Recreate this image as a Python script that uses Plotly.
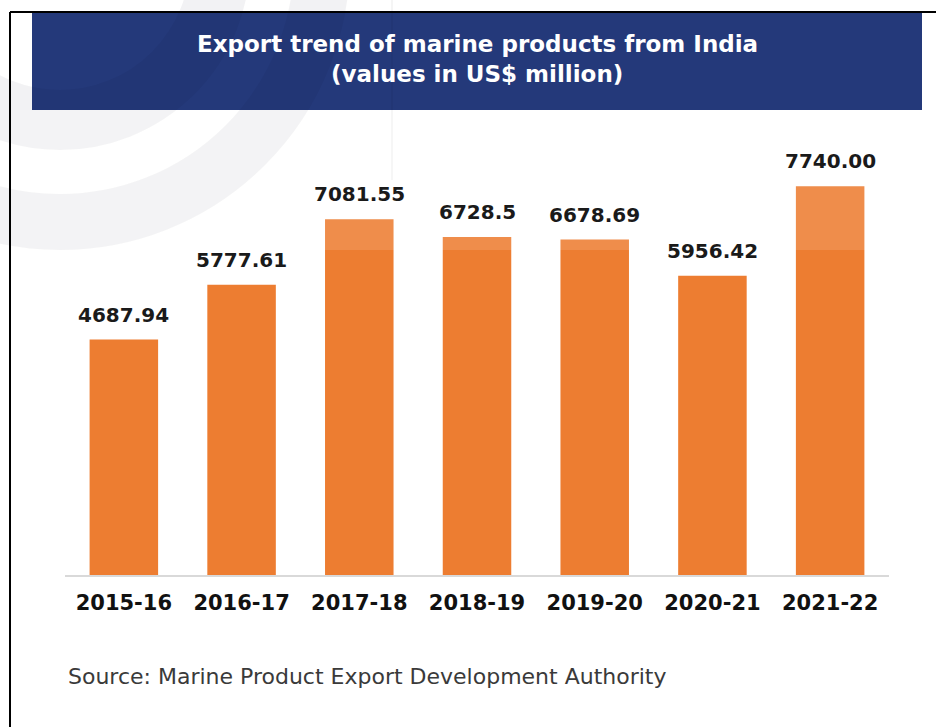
import plotly.graph_objects as go

# ---- data ----
years = ["2015-16", "2016-17", "2017-18", "2018-19", "2019-20", "2020-21", "2021-22"]
values = [4687.94, 5777.61, 7081.55, 6728.5, 6678.69, 5956.42, 7740.00]
value_labels = ["4687.94", "5777.61", "7081.55", "6728.5", "6678.69", "5956.42", "7740.00"]
title_line1 = "Export trend of marine products from India"
title_line2 = "(values in US$ million)"
source_text = "Source: Marine Product Export Development Authority"

# ---- layout geometry (pixels) ----
W, H = 936, 727
L, R, T, B = 65, 47, 120, 152
PW, PH = W - L - R, H - T - B


def px(x):
    return (x - L) / PW


def py(y):
    return (H - B - y) / PH


fig = go.Figure(
    go.Bar(
        x=years,
        y=values,
        marker=dict(color="#ED7D31", line=dict(width=0)),
        hoverinfo="skip",
    )
)

annotations = []
for yr, v, lab in zip(years, values, value_labels):
    annotations.append(dict(
        x=yr, y=v, xref="x", yref="y", text=lab, showarrow=False,
        yanchor="bottom", yshift=11,
        font=dict(family="DejaVu Sans", size=20, color="#1a1a1a", weight="bold"),
    ))

annotations += [
    dict(x=px(477), y=py(58.5), xref="paper", yref="paper", text=title_line1,
         showarrow=False, xanchor="center", yanchor="bottom",
         font=dict(family="DejaVu Sans", size=23, color="white", weight="bold")),
    dict(x=px(477), y=py(89.5), xref="paper", yref="paper", text=title_line2,
         showarrow=False, xanchor="center", yanchor="bottom",
         font=dict(family="DejaVu Sans", size=23, color="white", weight="bold")),
    dict(x=px(66), y=py(691), xref="paper", yref="paper", text=source_text,
         showarrow=False, xanchor="left", yanchor="bottom",
         font=dict(family="DejaVu Sans", size=22, color="#3a3a3a")),
]


def circle(cx, cy, r, width, color):
    return dict(type="circle", xref="paper", yref="paper",
                x0=px(cx - r), x1=px(cx + r), y0=py(cy + r), y1=py(cy - r),
                line=dict(color=color, width=width), fillcolor="rgba(0,0,0,0)", layer="below")


shapes = [
    # title banner
    dict(type="rect", xref="paper", yref="paper", x0=px(32), x1=px(922), y0=py(110), y1=py(13),
         fillcolor="#24397a", line=dict(width=0), layer="below"),
    # faint ring watermark (upper left)
    circle(60, -40, 262, 56, "rgba(0,0,30,0.05)"),
    circle(60, -40, 160, 60, "rgba(0,0,30,0.05)"),
    # faint vertical guide line
    dict(type="line", xref="paper", yref="paper", x0=px(392), x1=px(392), y0=py(180), y1=py(0),
         line=dict(color="rgba(0,0,0,0.08)", width=1), layer="below"),
    # light overlay band from watermark
    dict(type="rect", xref="paper", yref="paper", x0=px(0), x1=px(936), y0=py(250), y1=py(110),
         fillcolor="rgba(255,255,255,0.13)", line=dict(width=0), layer="above"),
    # outer black frame (left & top)
    dict(type="line", xref="paper", yref="paper", x0=px(10), x1=px(10), y0=py(727), y1=py(12),
         line=dict(color="black", width=2)),
    dict(type="line", xref="paper", yref="paper", x0=px(10), x1=px(936), y0=py(12), y1=py(12),
         line=dict(color="black", width=2)),
]

fig.update_layout(
    width=W, height=H,
    margin=dict(l=L, r=R, t=T, b=B, pad=0),
    paper_bgcolor="white", plot_bgcolor="white",
    bargap=0.418,
    showlegend=False,
    annotations=annotations,
    shapes=shapes,
    xaxis=dict(
        showline=True, linecolor="#d9d9d9", linewidth=2,
        showgrid=False, zeroline=False, ticks="",
        tickfont=dict(family="DejaVu Sans", size=21, color="#111111", weight="bold"),
        ticklabelstandoff=8,
    ),
    yaxis=dict(visible=False, range=[0, 9060], showgrid=False, zeroline=False),
)

fig.write_html("out.html", config={"displayModeBar": False},
               post_script="document.body.style.margin='0';")
